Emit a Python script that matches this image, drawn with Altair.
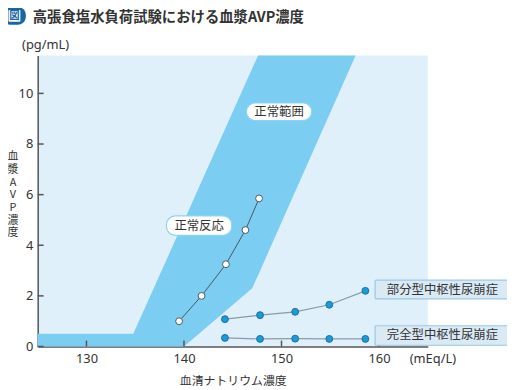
import altair as alt
import pandas as pd

# --- data -------------------------------------------------------------
# normal range band (x: serum Na, upper/lower AVP boundary)
band_x = [125, 134.8, 140, 147, 147.6, 157.6]
band_hi = [0.5, 0.5, 4.97, 10.99, 11.5, 11.5]
band_lo = [0, 0, 0, 2.3, 2.82, 11.5]

normal_x = [139.5, 141.8, 144.3, 146.3, 147.7]
normal_y = [1.0, 2.0, 3.25, 4.6, 5.85]

partial_x = [144.2, 147.8, 151.4, 154.9, 158.6]
partial_y = [1.08, 1.24, 1.37, 1.65, 2.2]

complete_x = [144.2, 147.8, 151.4, 154.9, 158.6]
complete_y = [0.34, 0.30, 0.31, 0.30, 0.30]

x_ticks = [130, 140, 150, 160]
y_ticks = [0, 2, 4, 6, 8, 10]

# annotation labels: text, box left/right (x), box top/bottom (y), style
lab_text = ["正常範囲", "正常反応", "部分型中枢性尿崩症", "完全型中枢性尿崩症"]
lab_x1 = [146.4, 138.2, 159.6, 159.6]
lab_x2 = [153.1, 144.9, 173.4, 173.4]
lab_y1 = [9.62, 5.16, 2.62, 0.82]
lab_y2 = [8.93, 4.39, 1.88, 0.05]
lab_kind = ["normal", "normal", "dx", "dx"]

title_text = "高張食塩水負荷試験における血漿AVP濃度"
y_title = ["血", "漿", "A", "V", "P", "濃", "度"]

W, H = 394, 294
XD = [125, 165]
YD = [0, 11.5]

xs = alt.Scale(domain=XD, nice=False, zero=False)
ys = alt.Scale(domain=YD, nice=False, zero=False)

band = pd.DataFrame({"x": band_x, "hi": band_hi, "lo": band_lo})
normal = pd.DataFrame({"x": normal_x, "y": normal_y})
partial = pd.DataFrame({"x": partial_x, "y": partial_y})
complete = pd.DataFrame({"x": complete_x, "y": complete_y})
labs = pd.DataFrame({"t": lab_text, "x1": lab_x1, "x2": lab_x2,
                     "y1": lab_y1, "y2": lab_y2, "k": lab_kind})
labs["xc"] = (labs.x1 + labs.x2) / 2
labs["yc"] = (labs.y1 + labs.y2) / 2

axis_x = alt.Axis(values=x_ticks, tickSize=0, labelPadding=6, labelFontSize=13,
                  labelColor="#333", labelFont="Noto Sans", domainColor="#555",
                  domainWidth=1.5, grid=False, title="血清ナトリウム濃度",
                  titleFont="Noto Sans CJK JP", titleFontSize=12,
                  titleFontWeight="normal", titleColor="#333", titlePadding=10)
axis_y = alt.Axis(values=y_ticks, tickSize=0, labelPadding=5, labelFontSize=13,
                  labelColor="#333", labelFont="Noto Sans", domainColor="#555",
                  domainWidth=1.5, grid=False, title=None)

area = alt.Chart(band).mark_area(color="#7ccdf2", opacity=1).encode(
    x=alt.X("x:Q", scale=xs, axis=axis_x),
    y=alt.Y("hi:Q", scale=ys, axis=axis_y),
    y2="lo:Q",
)

xt = alt.Chart(pd.DataFrame({"v": x_ticks})).mark_rule(color="#555", strokeWidth=1.5).encode(
    x=alt.X("v:Q", scale=xs), y=alt.value(H), y2=alt.value(H - 6))
yt = alt.Chart(pd.DataFrame({"v": y_ticks})).mark_rule(color="#555", strokeWidth=1.5).encode(
    y=alt.Y("v:Q", scale=ys), x=alt.value(0), x2=alt.value(6))

def series(df, line_color, fill, stroke, lw):
    base = alt.Chart(df).encode(x=alt.X("x:Q", scale=xs), y=alt.Y("y:Q", scale=ys))
    ln = base.mark_line(color=line_color, strokeWidth=lw)
    pt = base.mark_point(filled=True, fill=fill, stroke=stroke, strokeWidth=1,
                         size=48, opacity=1, shape="circle")
    return ln + pt

s_norm = series(normal, "#4d5660", "#ffffff", "#4d5660", 1)
s_part = series(partial, "#8e9aa3", "#1a9ad7", "#1570a8", 1.2)
s_comp = series(complete, "#8e9aa3", "#1a9ad7", "#1570a8", 1.2)

box_enc = dict(x=alt.X("x1:Q", scale=xs), x2="x2:Q",
               y=alt.Y("y1:Q", scale=ys), y2="y2:Q")
boxes_n = alt.Chart(labs[labs.k == "normal"]).mark_rect(
    cornerRadius=9, strokeWidth=1.2, fill="#ffffff", stroke="#8fd3f4").encode(**box_enc)
boxes_d = alt.Chart(labs[labs.k == "dx"]).mark_rect(
    cornerRadius=1, strokeWidth=1.2, fill="#d9eaf5", stroke="#9cc8e3").encode(**box_enc)
texts = alt.Chart(labs).mark_text(font="Noto Sans CJK JP", fontSize=12.5,
                                  color="#333", baseline="middle").encode(
    x=alt.X("xc:Q", scale=xs), y=alt.Y("yc:Q", scale=ys), text="t:N")

units = alt.Chart(pd.DataFrame({"t": ["(mEq/L)"], "x": [160.0], "y": [0.0]})).mark_text(
    font="Noto Sans", fontSize=13, color="#333", align="left", baseline="top",
    dx=31, dy=7).encode(x=alt.X("x:Q", scale=xs), y=alt.Y("y:Q", scale=ys), text="t:N")
yunit = alt.Chart(pd.DataFrame({"t": ["(pg/mL)"], "x": [125.0], "y": [11.5]})).mark_text(
    font="Noto Sans", fontSize=13, color="#333", align="center", baseline="middle",
    dx=8, dy=-10).encode(x=alt.X("x:Q", scale=xs), y=alt.Y("y:Q", scale=ys), text="t:N")

ytitle = alt.Chart(pd.DataFrame({"k": [0]})).mark_text(
    font="Noto Sans CJK JP", fontSize=11, color="#333", align="center",
    baseline="top", lineHeight=12.8).encode(
    x=alt.value(-25), y=alt.value(97), text=alt.value(y_title))

title = alt.Chart(pd.DataFrame({"k": [0]})).mark_text(
    font="Noto Sans CJK JP", fontSize=14.5, fontWeight="bold", color="#333",
    align="left", baseline="middle").encode(
    x=alt.value(-5), y=alt.value(-38), text=alt.value(title_text))

icon = alt.Chart(pd.DataFrame({"k": [0]})).mark_rect(
    color="#1b66a0", cornerRadius=8).encode(
    x=alt.value(-35), x2=alt.value(-12), y=alt.value(-49), y2=alt.value(-31))
icon_in = alt.Chart(pd.DataFrame({"k": [0]})).mark_rect(
    color="#ffffff", cornerRadius=1).encode(
    x=alt.value(-29.5), x2=alt.value(-17.5), y=alt.value(-46), y2=alt.value(-34))
icon_t = alt.Chart(pd.DataFrame({"k": [0]})).mark_text(
    font="Noto Sans CJK JP", fontSize=10.5, fontWeight="bold", color="#1b66a0",
    baseline="middle", align="center").encode(
    x=alt.value(-23.5), y=alt.value(-40), text=alt.value("図"))

chart = alt.layer(area, xt, yt, s_norm, s_part, s_comp, boxes_n, boxes_d, texts,
                  units, yunit, ytitle, title, icon, icon_in, icon_t).properties(
    width=W, height=H,
    padding={"left": 30, "top": 46, "right": 80, "bottom": 40},
    autosize="none",
).configure_view(fill="#dff0fb", stroke=None)

chart.save("out.html", embed_options={"renderer": "svg", "actions": False})
